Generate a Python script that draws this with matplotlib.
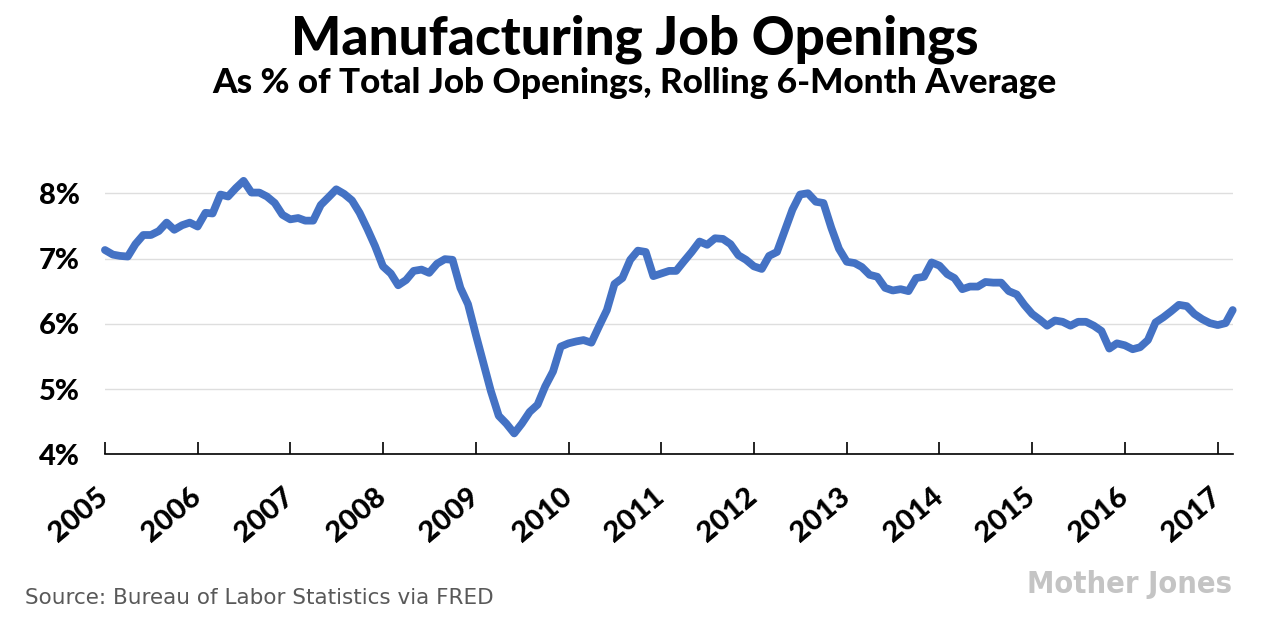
import numpy as np
import pandas as pd
import matplotlib
matplotlib.use("Agg")
import matplotlib.pyplot as plt
import matplotlib.dates as mdates
import matplotlib.ticker as mticker
from matplotlib import font_manager as fm

# monthly values, Jan 2005 - Mar 2017 (percent)
share = [7.13, 7.06, 7.04, 7.03, 7.22, 7.36, 7.36, 7.42, 7.55, 7.44, 7.51, 7.55,
         7.49, 7.70, 7.69, 7.98, 7.95, 8.08, 8.19, 8.01, 8.01, 7.95, 7.85, 7.67,
         7.60, 7.62, 7.58, 7.58, 7.82, 7.94, 8.06, 7.99, 7.89, 7.70, 7.45, 7.19,
         6.88, 6.77, 6.59, 6.67, 6.81, 6.83, 6.78, 6.92, 6.99, 6.98, 6.55, 6.30,
         5.83, 5.38, 4.97, 4.59, 4.47, 4.32, 4.47, 4.65, 4.76, 5.04, 5.27, 5.65,
         5.70, 5.73, 5.75, 5.71, 5.96, 6.21, 6.61, 6.70, 6.98, 7.12, 7.10, 6.73,
         6.77, 6.81, 6.81, 6.96, 7.10, 7.26, 7.21, 7.31, 7.30, 7.22, 7.05, 6.98,
         6.88, 6.84, 7.04, 7.10, 7.42, 7.75, 7.98, 8.00, 7.87, 7.85, 7.47, 7.15,
         6.95, 6.93, 6.87, 6.75, 6.72, 6.55, 6.51, 6.53, 6.50, 6.70, 6.72, 6.94,
         6.89, 6.76, 6.70, 6.53, 6.57, 6.57, 6.64, 6.63, 6.63, 6.50, 6.45, 6.29,
         6.15, 6.06, 5.97, 6.05, 6.03, 5.97, 6.03, 6.03, 5.97, 5.89, 5.62, 5.70,
         5.67, 5.61, 5.64, 5.75, 6.02, 6.10, 6.19, 6.29, 6.27, 6.15, 6.07, 6.01,
         5.98, 6.01, 6.21]
months = pd.date_range("2005-01-01", periods=len(share), freq="MS")
yticks = [4, 5, 6, 7, 8]

title = "Manufacturing Job Openings"
subtitle = "As % of Total Job Openings, Rolling 6-Month Average"
source = "Source: Bureau of Labor Statistics via FRED"

bold = ["Lato", "DejaVu Sans"]


def narrow_font():
    # look for any installed condensed / narrow bold face for the logo
    order = {"ultra-condensed": 0, "extra-condensed": 1, "condensed": 2,
             "semi-condensed": 3}
    best = None
    for f in fm.fontManager.ttflist:
        st = str(f.stretch)
        nm = f.name + " " + f.fname
        narrow = st in order or "Narrow" in nm or "Condensed" in nm
        if not narrow:
            continue
        w = f.weight if isinstance(f.weight, int) else 700 if "bold" in str(f.weight) else 400
        if w < 600:
            continue
        rank = order.get(st, 2)
        if best is None or rank < best[0]:
            best = (rank, f.fname)
    if best:
        return fm.FontProperties(fname=best[1])
    return fm.FontProperties(family="DejaVu Sans", weight="bold")


fig = plt.figure(figsize=(12.69, 6.18), dpi=100)
ax = fig.add_axes([0.0827, 0.2649, 0.8887, 0.4541])

ax.plot(months, share, color="#4472C4", lw=5.6, solid_joinstyle="round",
        solid_capstyle="round", clip_on=False, zorder=3)

ax.set_xlim(months[0], months[-1])
ax.set_ylim(4, 8.3)
ax.set_yticks(yticks)
ax.yaxis.set_major_formatter(mticker.FuncFormatter(lambda v, p: "%d%%" % v))
ax.xaxis.set_major_locator(mdates.YearLocator())
ax.xaxis.set_major_formatter(mdates.DateFormatter("%Y"))

ax.grid(axis="y", color="#dedede", lw=1.0)
ax.set_axisbelow(True)
for s in ["left", "right", "top"]:
    ax.spines[s].set_visible(False)
ax.spines["bottom"].set_color("black")
ax.spines["bottom"].set_linewidth(1.2)
ax.spines["bottom"].set_zorder(4)

ax.tick_params(axis="y", length=0, pad=18)
ax.tick_params(axis="x", direction="in", length=9, width=1.2, color="black", pad=28)
for lab in ax.get_yticklabels():
    lab.set_family(bold)
    lab.set_fontweight("black")
    lab.set_fontsize(21)
    lab.set_horizontalalignment("right")
for lab in ax.get_xticklabels():
    lab.set_family(bold)
    lab.set_fontweight("black")
    lab.set_fontsize(21)
    lab.set_rotation(40)
    lab.set_rotation_mode("anchor")
    lab.set_horizontalalignment("right")
    lab.set_verticalalignment("center")

fig.text(0.5, 0.937, title, ha="center", va="center", fontsize=38.2,
         fontweight="black", family=bold)
fig.text(0.5, 0.866, subtitle, ha="center", va="center", fontsize=25.3,
         fontweight="black", family=bold)
fig.text(0.02, 0.032, source, ha="left", va="center", fontsize=15.5,
         color="#595959", family=["DejaVu Sans"])

logo = fig.text(0.971, 0.055, "Mother Jones", ha="right", va="center",
                fontsize=30, color="#c4c4c4", fontproperties=narrow_font())
logo.set_fontsize(30)
fig.canvas.draw()
wpx = logo.get_window_extent().width
logo.set_fontsize(30 * 205.0 / wpx)

fig.savefig("out.png", dpi=100)
